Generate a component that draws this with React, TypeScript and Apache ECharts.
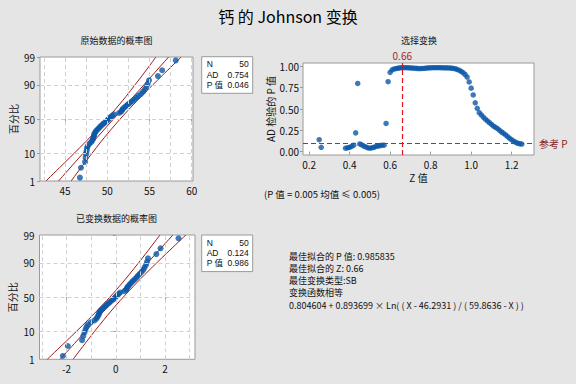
import React, { useEffect, useRef } from "react";
import * as echarts from "echarts";

const FONT = "'Noto Sans CJK SC', 'Noto Sans', sans-serif";
const BOX_FONT = "'Liberation Sans', 'Noto Sans CJK SC', sans-serif";

// ---- Data ----
// Original calcium values (sorted), top-left probability plot
const calcium = [
  46.77, 46.89, 47.38, 47.44, 47.5, 47.55, 47.6, 47.68, 47.85, 48.1,
  48.25, 48.33, 48.4, 48.45, 48.5, 48.6, 48.72, 48.9, 49.05, 49.2,
  49.38, 49.55, 49.75, 49.95, 50.1, 50.25, 50.4, 50.6, 50.8, 51.4,
  51.65, 51.75, 51.85, 52.05, 52.25, 52.45, 52.7, 52.95, 53.2, 53.45,
  53.7, 54.0, 54.25, 54.45, 54.65, 54.8, 54.95, 56.0, 56.5, 58.11,
];
// Transformed values (sorted), bottom-left probability plot
const transformed = [
  -2.15, -1.95, -1.37, -1.32, -1.27, -1.23, -1.19, -1.13, -1.02, -0.86,
  -0.78, -0.74, -0.7, -0.68, -0.66, -0.61, -0.55, -0.48, -0.42, -0.36,
  -0.29, -0.23, -0.16, -0.09, -0.04, 0.01, 0.06, 0.12, 0.18, 0.35,
  0.42, 0.45, 0.48, 0.53, 0.58, 0.64, 0.7, 0.77, 0.84, 0.9,
  0.97, 1.05, 1.12, 1.17, 1.23, 1.27, 1.31, 1.65, 1.82, 2.55,
];

// Fit line and confidence bands (percent level -> x value)
const bandPercents = [1, 5, 10, 20, 30, 50, 70, 80, 90, 95, 99];
const origLower = [42.75, 44.95, 46.11, 47.49, 48.45, 49.97, 51.39, 52.21, 53.29, 54.17, 55.77];
const origFit = [44.24, 46.14, 47.16, 48.39, 49.28, 50.75, 52.22, 53.11, 54.34, 55.36, 57.26];
const origUpper = [45.73, 47.33, 48.21, 49.29, 50.11, 51.53, 53.05, 54.01, 55.39, 56.55, 58.75];
const transLower = [-2.786, -2.009, -1.6, -1.117, -0.778, -0.243, 0.256, 0.541, 0.924, 1.231, 1.796];
const transFit = [-2.261, -1.59, -1.232, -0.799, -0.487, 0.03, 0.547, 0.859, 1.292, 1.65, 2.321];
const transUpper = [-1.736, -1.171, -0.864, -0.481, -0.196, 0.303, 0.838, 1.177, 1.66, 2.069, 2.846];

// Z value vs AD p-value
const zValues = [
  0.25, 0.26,
  0.38, 0.39, 0.4, 0.41, 0.42, 0.43, 0.44, 0.45, 0.46, 0.47, 0.48, 0.49,
  0.5, 0.51, 0.52, 0.53, 0.54, 0.55, 0.56, 0.57, 0.58, 0.59,
  0.6, 0.61, 0.62, 0.63, 0.64, 0.65, 0.66, 0.67, 0.68, 0.69,
  0.7, 0.71, 0.72, 0.73, 0.74, 0.75, 0.76, 0.77, 0.78, 0.79,
  0.8, 0.81, 0.82, 0.83, 0.84, 0.85, 0.86, 0.87, 0.88, 0.89,
  0.9, 0.91, 0.92, 0.93, 0.94, 0.95, 0.96, 0.97, 0.98, 0.99,
  1.0, 1.01, 1.02, 1.03, 1.04, 1.05, 1.06, 1.07, 1.08, 1.09,
  1.1, 1.11, 1.12, 1.13, 1.14, 1.15, 1.16, 1.17, 1.18, 1.19,
  1.2, 1.21, 1.22, 1.23, 1.24, 1.25,
];
const pValues = [
  0.14, 0.05,
  0.04, 0.045, 0.05, 0.06, 0.075, 0.22, 0.8, 0.09, 0.08, 0.065, 0.055, 0.045,
  0.04, 0.045, 0.05, 0.06, 0.065, 0.07, 0.075, 0.075, 0.33, 0.82,
  0.93, 0.96, 0.97, 0.975, 0.98, 0.983, 0.986, 0.985, 0.985, 0.984,
  0.983, 0.981, 0.979, 0.977, 0.975, 0.975, 0.976, 0.978, 0.981, 0.983,
  0.984, 0.985, 0.985, 0.985, 0.985, 0.985, 0.984, 0.984, 0.983, 0.982,
  0.98, 0.977, 0.973, 0.965, 0.955, 0.942, 0.928, 0.905, 0.875, 0.818,
  0.745, 0.665, 0.573, 0.508, 0.457, 0.43, 0.405, 0.38, 0.36, 0.34,
  0.32, 0.3, 0.285, 0.27, 0.25, 0.23, 0.215, 0.195, 0.175, 0.155,
  0.138, 0.122, 0.108, 0.098, 0.092, 0.088,
];

// Axis ticks
const percentTicks = [1, 10, 50, 90, 99];
const origXTicks = [45, 50, 55, 60];
const origXGrid = [42.5, 45, 47.5, 50, 52.5, 55, 57.5, 60];
const transXTicks = [-2, 0, 2];
const transXGrid = [-3, -2, -1, 0, 1, 2, 3];
const zTicks = [0.2, 0.4, 0.6, 0.8, 1.0, 1.2];
const pTicks = [0, 0.25, 0.5, 0.75, 1.0];
const bestZ = 0.66;
const refP = 0.1;

// Texts
const mainTitle = "钙 的 Johnson 变换";
const origTitle = "原始数据的概率图";
const transTitle = "已变换数据的概率图";
const selTitle = "选择变换";
const statLabels = ["N", "AD", "P 值"];
const origStats = ["50", "0.754", "0.046"];
const transStats = ["50", "0.124", "0.986"];
const noteText = "(P 值 = 0.005 均值 ≤ 0.005)";
const infoLines = [
  "最佳拟合的 P 值: 0.985835",
  "最佳拟合的 Z: 0.66",
  "最佳变换类型:SB",
  "变换函数相等",
  "0.804604 + 0.893699 × Ln( ( X - 46.2931 ) / ( 59.8636 - X ) )",
];

// ---- helpers ----
function normInv(p: number): number {
  const a = [-3.969683028665376e1, 2.209460984245205e2, -2.759285104469687e2, 1.38357751867269e2, -3.066479806614716e1, 2.506628277459239];
  const b = [-5.447609879822406e1, 1.615858368580409e2, -1.556989798598866e2, 6.680131188771972e1, -1.328068155288572e1];
  const c = [-7.784894002430293e-3, -3.223964580411365e-1, -2.400758277161838, -2.549671010615536, 4.374664141464968, 2.938163982698783];
  const d = [7.784695709041462e-3, 3.224671290700398e-1, 2.445134137142996, 3.754408661907416];
  const plow = 0.02425;
  if (p < plow) {
    const q = Math.sqrt(-2 * Math.log(p));
    return (((((c[0] * q + c[1]) * q + c[2]) * q + c[3]) * q + c[4]) * q + c[5]) / ((((d[0] * q + d[1]) * q + d[2]) * q + d[3]) * q + 1);
  }
  if (p > 1 - plow) {
    const q = Math.sqrt(-2 * Math.log(1 - p));
    return -(((((c[0] * q + c[1]) * q + c[2]) * q + c[3]) * q + c[4]) * q + c[5]) / ((((d[0] * q + d[1]) * q + d[2]) * q + d[3]) * q + 1);
  }
  const q = p - 0.5;
  const r = q * q;
  return ((((((a[0] * r + a[1]) * r + a[2]) * r + a[3]) * r + a[4]) * r + a[5]) * q) / (((((b[0] * r + b[1]) * r + b[2]) * r + b[3]) * r + b[4]) * r + 1);
}

const BLUE = "#0b58a6";
const DARKRED = "#9e1b1b";
const RED = "#e0141e";
const GRID_LINE = "#d0d0d0";
const BORDER = "#9a9a9a";
const TXT = "#111";

const zTickVals = percentTicks.map((p) => normInv(p / 100));
const zMin = normInv(0.01);
const zMax = normInv(0.99);
const pctFormatter = (v: number) => {
  const i = zTickVals.findIndex((z) => Math.abs(z - v) < 1e-6);
  return i >= 0 ? String(percentTicks[i]) : "";
};

function probPoints(vals: number[]) {
  const n = vals.length;
  return vals.map((v, i) => [v, normInv((i + 1 - 0.3) / (n + 0.4))]);
}
function bandLine(xs: number[]) {
  return xs.map((x, i) => [x, normInv(bandPercents[i] / 100)]);
}

function gridSeries(idx: number, xs: number[]) {
  return {
    type: "line",
    xAxisIndex: idx,
    yAxisIndex: idx,
    data: [],
    silent: true,
    z: 1,
    markLine: {
      silent: true,
      symbol: ["none", "none"],
      label: { show: false },
      lineStyle: { type: [4, 3], color: GRID_LINE, width: 1 },
      data: [
        ...xs.map((x) => ({ xAxis: x })),
        ...zTickVals.map((z) => ({ yAxis: z })),
      ],
    },
  };
}

function bandSeries(idx: number, xs: number[]) {
  return {
    type: "line",
    xAxisIndex: idx,
    yAxisIndex: idx,
    data: bandLine(xs),
    smooth: 0.3,
    showSymbol: false,
    symbol: "none",
    silent: true,
    z: 2,
    lineStyle: { color: DARKRED, width: 1 },
  };
}

function statBox(x: number, y: number, vals: string[]) {
  const rowH = 10.4;
  const els: any[] = [
    {
      type: "rect",
      shape: { x, y, width: 51, height: 36.6 },
      style: { fill: "#fff", stroke: BORDER, lineWidth: 1 },
    },
  ];
  statLabels.forEach((lab, i) => {
    const cy = y + 7.6 + i * rowH;
    els.push({
      type: "text",
      x: x + 5,
      y: cy,
      style: { text: lab, fontSize: 8.5, fontFamily: BOX_FONT, fill: TXT, align: "left", verticalAlign: "middle" },
    });
    els.push({
      type: "text",
      x: x + 47,
      y: cy,
      style: { text: vals[i], fontSize: 8.5, fontFamily: BOX_FONT, fill: TXT, align: "right", verticalAlign: "middle" },
    });
  });
  return els;
}

export default function App() {
  const ref = useRef<HTMLDivElement>(null);

  useEffect(() => {
    if (!ref.current) return;
    const chart = echarts.init(ref.current, undefined, { renderer: "svg" });

    const axisLabelStyle = { fontSize: 10, fontFamily: FONT, color: TXT };
    const tick = { show: true, inside: false, length: 3, lineStyle: { color: BORDER } };

    const option: any = {
      animation: false,
      backgroundColor: "#e5e5e5",
      textStyle: { fontFamily: FONT },
      grid: [
        { left: 40, top: 57, width: 153, height: 124, show: true, backgroundColor: "#fff", borderColor: BORDER, borderWidth: 1 },
        { left: 39.5, top: 235, width: 155.5, height: 124.3, show: true, backgroundColor: "#fff", borderColor: BORDER, borderWidth: 1 },
        { left: 303, top: 63, width: 231, height: 92, show: true, backgroundColor: "#fff", borderColor: BORDER, borderWidth: 1 },
      ],
      xAxis: [
        {
          gridIndex: 0,
          type: "value",
          min: 42.05,
          max: 60.15,
          axisLine: { show: false },
          splitLine: { show: false },
          axisTick: { ...tick, customValues: origXTicks },
          axisLabel: { ...axisLabelStyle, margin: 4, customValues: origXTicks },
        },
        {
          gridIndex: 1,
          type: "value",
          min: -3.1,
          max: 3.22,
          axisLine: { show: false },
          splitLine: { show: false },
          axisTick: { ...tick, customValues: transXTicks },
          axisLabel: { ...axisLabelStyle, margin: 4, customValues: transXTicks },
        },
        {
          gridIndex: 2,
          type: "value",
          min: 0.17,
          max: 1.31,
          name: "Z 值",
          nameLocation: "middle",
          nameGap: 17,
          nameTextStyle: { fontSize: 10, fontFamily: FONT, color: TXT },
          axisLine: { show: false },
          splitLine: { show: false },
          axisTick: { ...tick, customValues: zTicks },
          axisLabel: {
            ...axisLabelStyle,
            margin: 4,
            customValues: zTicks,
            formatter: (v: number) => v.toFixed(1),
          },
        },
      ],
      yAxis: [
        {
          gridIndex: 0,
          type: "value",
          min: zMin,
          max: zMax,
          name: "百分比",
          nameLocation: "middle",
          nameGap: 22,
          nameTextStyle: { fontSize: 10, fontFamily: FONT, color: TXT },
          axisLine: { show: false },
          splitLine: { show: false },
          axisTick: { ...tick, customValues: zTickVals },
          axisLabel: { ...axisLabelStyle, margin: 5, customValues: zTickVals, formatter: pctFormatter },
        },
        {
          gridIndex: 1,
          type: "value",
          min: zMin,
          max: zMax,
          name: "百分比",
          nameLocation: "middle",
          nameGap: 22,
          nameTextStyle: { fontSize: 10, fontFamily: FONT, color: TXT },
          axisLine: { show: false },
          splitLine: { show: false },
          axisTick: { ...tick, customValues: zTickVals },
          axisLabel: { ...axisLabelStyle, margin: 5, customValues: zTickVals, formatter: pctFormatter },
        },
        {
          gridIndex: 2,
          type: "value",
          min: -0.04,
          max: 1.04,
          name: "AD 检验的 P 值",
          nameLocation: "middle",
          nameGap: 26,
          nameTextStyle: { fontSize: 10, fontFamily: FONT, color: TXT },
          axisLine: { show: false },
          splitLine: { show: false },
          axisTick: { ...tick, customValues: pTicks },
          axisLabel: {
            ...axisLabelStyle,
            margin: 4,
            customValues: pTicks,
            formatter: (v: number) => v.toFixed(2),
          },
        },
      ],
      series: [
        gridSeries(0, origXGrid),
        gridSeries(1, transXGrid),
        bandSeries(0, origLower),
        bandSeries(0, origFit),
        bandSeries(0, origUpper),
        bandSeries(1, transLower),
        bandSeries(1, transFit),
        bandSeries(1, transUpper),
        {
          type: "scatter",
          xAxisIndex: 0,
          yAxisIndex: 0,
          data: probPoints(calcium),
          symbolSize: 6,
          itemStyle: { color: BLUE },
          z: 3,
        },
        {
          type: "scatter",
          xAxisIndex: 1,
          yAxisIndex: 1,
          data: probPoints(transformed),
          symbolSize: 6,
          itemStyle: { color: BLUE },
          z: 3,
        },
        {
          type: "scatter",
          xAxisIndex: 2,
          yAxisIndex: 2,
          data: zValues.map((z, i) => [z, pValues[i]]),
          symbolSize: 5.5,
          itemStyle: { color: BLUE },
          z: 3,
          markLine: {
            silent: true,
            symbol: ["none", "none"],
            lineStyle: { type: [5, 3], color: RED, width: 1.2 },
            data: [
              {
                xAxis: bestZ,
                label: {
                  show: true,
                  position: "end",
                  formatter: String(bestZ),
                  fontSize: 10,
                  fontFamily: FONT,
                  color: "#a3262b",
                  distance: 3,
                },
              },
              {
                yAxis: refP,
                label: {
                  show: true,
                  position: "end",
                  formatter: "参考 P",
                  fontSize: 10,
                  fontFamily: FONT,
                  color: "#8a1f1f",
                  distance: 5,
                },
              },
            ],
          },
        },
      ],
      graphic: [
        {
          type: "text",
          x: 288,
          y: 16,
          style: { text: mainTitle, fontSize: 16, fontFamily: FONT, fill: "#000", align: "center", verticalAlign: "middle" },
        },
        {
          type: "text",
          x: 116.5,
          y: 40,
          style: { text: origTitle, fontSize: 9, fontFamily: FONT, fill: TXT, align: "center", verticalAlign: "middle" },
        },
        {
          type: "text",
          x: 419,
          y: 40.5,
          style: { text: selTitle, fontSize: 9, fontFamily: FONT, fill: TXT, align: "center", verticalAlign: "middle" },
        },
        {
          type: "text",
          x: 116.5,
          y: 218.3,
          style: { text: transTitle, fontSize: 9, fontFamily: FONT, fill: TXT, align: "center", verticalAlign: "middle" },
        },
        ...statBox(201.7, 56.7, origStats),
        ...statBox(201.7, 235, transStats),
        {
          type: "text",
          x: 264,
          y: 194,
          style: { text: noteText, fontSize: 9.5, fontFamily: FONT, fill: TXT, align: "left", verticalAlign: "middle" },
        },
        {
          type: "text",
          x: 289,
          y: 250.6,
          style: {
            text: infoLines.join("\n"),
            fontSize: 9,
            lineHeight: 12.1,
            fontFamily: FONT,
            fill: TXT,
            align: "left",
            verticalAlign: "top",
          },
        },
      ],
    };

    chart.setOption(option);
    return () => chart.dispose();
  }, []);

  return (
    <div
      ref={ref}
      style={{ position: "fixed", left: 0, top: 0, width: 576, height: 384 }}
    />
  );
}
